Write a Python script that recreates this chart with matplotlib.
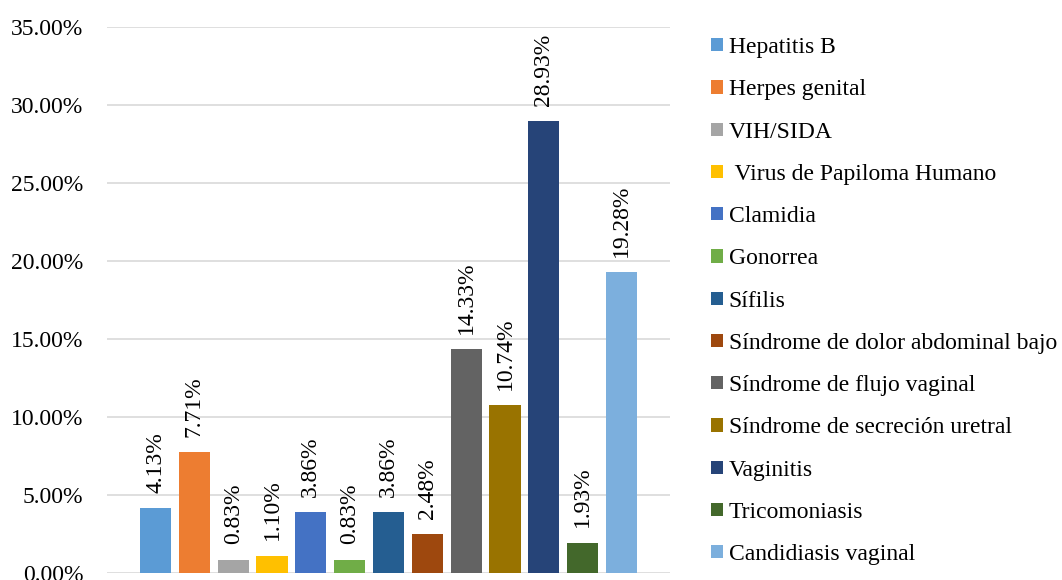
import matplotlib
matplotlib.use("Agg")
import matplotlib.pyplot as plt
from matplotlib.patches import Patch
from matplotlib.ticker import FuncFormatter

# data
categories = ["Hepatitis B", "Herpes genital", "VIH/SIDA", " Virus de Papiloma Humano",
              "Clamidia", "Gonorrea", "Sífilis", "Síndrome de dolor abdominal bajo",
              "Síndrome de flujo vaginal", "Síndrome de secreción uretral", "Vaginitis",
              "Tricomoniasis", "Candidiasis vaginal"]
values = [4.13, 7.71, 0.83, 1.10, 3.86, 0.83, 3.86, 2.48, 14.33, 10.74, 28.93, 1.93, 19.28]
colors = ["#5B9BD5", "#ED7D31", "#A5A5A5", "#FFC000", "#4472C4", "#70AD47", "#255E91",
          "#9E480E", "#636363", "#997300", "#264478", "#43682B", "#7CAFDD"]
yticks = [0, 5, 10, 15, 20, 25, 30, 35]


def main():
    plt.rcParams["font.family"] = ["Liberation Serif", "DejaVu Serif"]

    fig = plt.figure(figsize=(10.62, 5.8), dpi=100)
    ax = fig.add_axes([107 / 1062, 1 - 572.7 / 580, (670 - 107) / 1062, (572.7 - 26.7) / 580])

    x = list(range(len(values)))
    bars = ax.bar(x, values, width=0.8, color=colors, zorder=3)

    for b, v in zip(bars, values):
        ax.annotate("%.2f%%" % v, (b.get_x() + b.get_width() / 2, v),
                    xytext=(0, 11), textcoords="offset points",
                    rotation=90, ha="center", va="bottom", fontsize=17, color="black")

    ax.set_xlim(-1.25, 13.25)
    ax.set_ylim(0, 35)
    ax.set_yticks(yticks)
    ax.yaxis.set_major_formatter(FuncFormatter(lambda v, p: "%.2f%%" % v))
    ax.tick_params(axis="y", length=0, pad=17, labelsize=17, labelcolor="black")
    ax.set_xticks([])
    ax.grid(axis="y", color="#D9D9D9", linewidth=1.2, zorder=0)
    for s in ax.spines.values():
        s.set_visible(False)

    handles = [Patch(facecolor=c, edgecolor="none") for c in colors]
    fig.legend(handles, categories, loc="upper left", bbox_to_anchor=(711 / 1062, 0.936),
               frameon=False, fontsize=17, handlelength=0.5, handleheight=0.5,
               handletextpad=0.25, labelspacing=0.9, borderpad=0, borderaxespad=0,
               labelcolor="black")

    fig.savefig("out.png", dpi=100)


if __name__ == "__main__":
    main()
